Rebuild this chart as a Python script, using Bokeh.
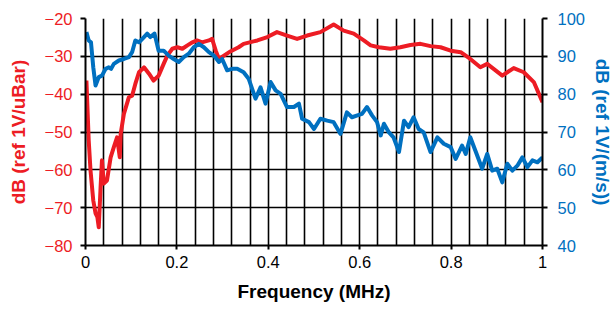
from bokeh.plotting import figure
from bokeh.models import Range1d, LinearAxis, FixedTicker, SingleIntervalTicker
from bokeh.embed import file_html
from bokeh.resources import INLINE

# Red series (left axis, dB ref 1V/uBar)
red_f = [0.002, 0.007, 0.011, 0.017, 0.022, 0.026, 0.029, 0.033, 0.036, 0.040, 0.047,
         0.055, 0.062, 0.069, 0.075, 0.077, 0.084, 0.095, 0.102, 0.109, 0.117, 0.128,
         0.139, 0.149, 0.160, 0.171, 0.179, 0.190, 0.201, 0.212, 0.223, 0.234, 0.244,
         0.255, 0.270, 0.277, 0.285, 0.292, 0.303, 0.317, 0.335, 0.346, 0.376, 0.398,
         0.419, 0.441, 0.463, 0.485, 0.514, 0.543, 0.565, 0.587, 0.609, 0.624, 0.642,
         0.667, 0.689, 0.711, 0.733, 0.755, 0.777, 0.799, 0.821, 0.842, 0.864, 0.879,
         0.893, 0.912, 0.937, 0.959, 0.981, 1.0]
red_db = [-36.4, -52.2, -60.2, -68.1, -71.5, -72.5, -75.2, -64.6, -57.5, -63.6, -62.8,
          -56.7, -54.0, -51.4, -56.7, -50.5, -45.2, -40.8, -40.4, -37.3, -34.2, -32.9,
          -34.6, -36.4, -35.1, -32.0, -29.8, -28.0, -27.6, -28.0, -27.1, -26.3, -25.8,
          -26.3, -25.8, -25.4, -28.5, -30.7, -29.8, -28.7, -27.6, -26.7, -25.8, -24.9,
          -23.6, -24.5, -25.4, -24.5, -23.6, -21.6, -23.2, -24.0, -25.8, -27.1, -27.6,
          -28.0, -27.6, -27.0, -26.7, -27.3, -27.6, -28.5, -28.9, -30.7, -32.9, -32.0,
          -33.3, -35.1, -33.1, -34.2, -36.8, -42.1]

# Blue series (right axis, dB ref 1V/(m/s))
blue_f = [0.002, 0.007, 0.012, 0.017, 0.022, 0.029, 0.036, 0.044, 0.051, 0.056, 0.062,
          0.073, 0.084, 0.095, 0.102, 0.109, 0.117, 0.128, 0.135, 0.142, 0.151, 0.160,
          0.171, 0.182, 0.193, 0.204, 0.215, 0.226, 0.237, 0.248, 0.259, 0.270, 0.281,
          0.292, 0.299, 0.310, 0.321, 0.332, 0.346, 0.357, 0.372, 0.383, 0.394, 0.405,
          0.416, 0.427, 0.441, 0.456, 0.467, 0.474, 0.489, 0.500, 0.514, 0.529, 0.543,
          0.558, 0.572, 0.583, 0.595, 0.605, 0.616, 0.627, 0.638, 0.646, 0.653, 0.664,
          0.674, 0.686, 0.697, 0.707, 0.718, 0.729, 0.740, 0.755, 0.770, 0.784, 0.799,
          0.810, 0.824, 0.832, 0.842, 0.853, 0.868, 0.879, 0.890, 0.901, 0.912, 0.923,
          0.934, 0.945, 0.956, 0.967, 0.978, 0.989, 1.0]
blue_db = [96.4, 94.2, 93.7, 87.1, 82.3, 84.5, 84.9, 86.7, 87.1, 86.7, 88.0,
           88.9, 89.3, 89.8, 91.1, 94.2, 93.7, 95.1, 96.0, 95.1, 96.0, 91.5,
           91.5, 90.2, 89.3, 88.5, 89.8, 90.7, 92.4, 93.3, 92.4, 91.1, 90.2,
           88.5, 89.3, 86.3, 86.7, 86.7, 85.8, 84.1, 78.8, 81.8, 77.5, 83.2,
           81.0, 80.1, 76.6, 76.6, 77.5, 73.5, 72.6, 70.8, 73.5, 73.0, 72.6,
           69.5, 75.2, 73.9, 74.4, 74.8, 76.6, 74.4, 72.6, 69.1, 72.2, 69.9,
           68.6, 64.7, 73.0, 71.3, 73.9, 70.8, 69.9, 64.7, 68.6, 66.9, 66.0,
           62.9, 66.4, 64.2, 68.6, 65.1, 60.3, 64.2, 59.8, 60.3, 56.7, 61.6,
           59.8, 61.1, 63.3, 60.7, 62.5, 62.0, 63.3]

x_ticks = [0, 0.2, 0.4, 0.6, 0.8, 1.0]
left_ticks = [-80, -70, -60, -50, -40, -30, -20]
right_ticks = [40, 50, 60, 70, 80, 90, 100]

RED = "#ED1C24"
BLUE = "#0070C0"
FONT = "Liberation Sans"

p = figure(frame_width=457, frame_height=227, output_backend="svg", toolbar_location=None,
           x_range=Range1d(0, 1), y_range=Range1d(-80, -20),
           min_border_left=85, min_border_right=70, min_border_top=18, min_border_bottom=60)
p.outline_line_color = None
p.background_fill_color = "white"
p.border_fill_color = "white"

p.extra_y_ranges = {"right": Range1d(40, 100)}

# grids
p.xgrid.ticker = SingleIntervalTicker(interval=0.04)
p.ygrid.ticker = FixedTicker(ticks=left_ticks)
for g in (p.xgrid, p.ygrid):
    g.grid_line_color = "black"
    g.grid_line_width = 1.6

# bottom axis
xa = p.xaxis[0]
xa.ticker = FixedTicker(ticks=x_ticks)
xa.major_label_overrides = {0: "0", 0.2: "0.2", 0.4: "0.4", 0.6: "0.6", 0.8: "0.8", 1.0: "1"}
xa.axis_label = "Frequency (MHz)"

# left axis
ya = p.yaxis[0]
ya.ticker = FixedTicker(ticks=left_ticks)
ya.axis_label = "dB (ref 1V/uBar)"
ya.axis_label_text_color = RED
ya.major_label_text_color = RED

# right axis
ra = LinearAxis(y_range_name="right", ticker=FixedTicker(ticks=right_ticks),
                axis_label="dB (ref 1V/(m/s))")
ra.axis_label_text_color = BLUE
ra.major_label_text_color = BLUE
p.add_layout(ra, "right")

for ax in (xa, ya, ra):
    ax.axis_line_color = "black"
    ax.axis_line_width = 2
    ax.major_tick_line_color = "black"
    ax.major_tick_line_width = 2
    ax.major_tick_out = 5
    ax.major_tick_in = 0
    ax.minor_tick_line_color = None
    ax.major_label_text_font = FONT
    ax.major_label_text_font_size = "16.5px"
    ax.axis_label_text_font = FONT
    ax.axis_label_text_font_size = "19px"
    ax.axis_label_text_font_style = "bold"
xa.major_label_text_color = "black"
xa.axis_label_text_color = "black"
xa.major_tick_out = 4
xa.major_label_standoff = 6
xa.axis_label_standoff = 10
ya.major_label_standoff = 8
ya.axis_label_standoff = 13
ra.major_label_standoff = 10
ra.axis_label_standoff = 4

p.line(red_f, red_db, line_color=RED, line_width=4, line_join="round")
p.line(blue_f, blue_db, line_color=BLUE, line_width=4, line_join="round", y_range_name="right")

open("out.html", "w").write(file_html(p, INLINE))
